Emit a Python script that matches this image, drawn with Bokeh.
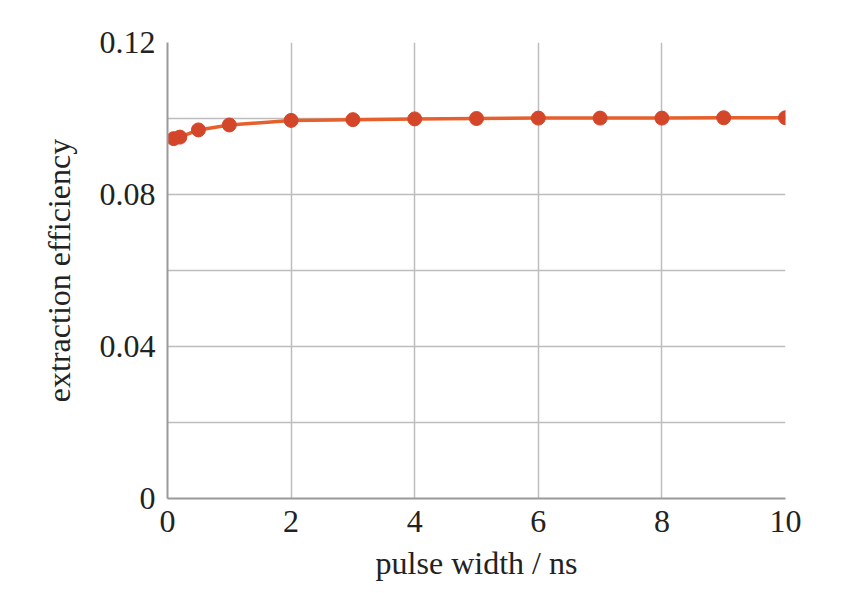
from bokeh.plotting import figure
from bokeh.models import FixedTicker, Range1d
from bokeh.embed import file_html
from bokeh.resources import INLINE

pulse_width = [0.1, 0.2, 0.5, 1, 2, 3, 4, 5, 6, 7, 8, 9, 10]
efficiency = [0.0947, 0.0951, 0.0970, 0.0983, 0.0995, 0.0997, 0.0999, 0.1000, 0.1001, 0.1001, 0.1001, 0.1002, 0.1002]

x_ticks = [0, 2, 4, 6, 8, 10]
y_ticks = [0, 0.04, 0.08, 0.12]
y_grid = [0, 0.02, 0.04, 0.06, 0.08, 0.10, 0.12]

FONT = "Liberation Serif"

p = figure(width=840, height=585, output_backend="svg", toolbar_location=None,
           x_range=Range1d(0, 10), y_range=Range1d(0, 0.12),
           min_border_left=167, min_border_right=55, min_border_top=42, min_border_bottom=87)

p.outline_line_color = None
p.background_fill_color = "white"

p.line(pulse_width, efficiency, line_color="#E5602C", line_width=3.5)
p.scatter(pulse_width, efficiency, size=14, fill_color="#D4462A", line_color="#D4462A")

p.xaxis.ticker = FixedTicker(ticks=x_ticks)
p.yaxis.ticker = FixedTicker(ticks=y_ticks)
p.xgrid.ticker = FixedTicker(ticks=x_ticks)
p.ygrid.ticker = FixedTicker(ticks=y_grid)
p.yaxis.major_label_overrides = {0: "0", 0.04: "0.04", 0.08: "0.08", 0.12: "0.12"}

for g in (p.xgrid, p.ygrid):
    g.grid_line_color = "#BDBDBD"
    g.grid_line_width = 1.5

for ax in (p.xaxis, p.yaxis):
    ax.axis_line_color = "#9A9A9A"
    ax.axis_line_width = 2
    ax.major_tick_line_color = None
    ax.minor_tick_line_color = None
    ax.major_label_text_font = FONT
    ax.major_label_text_font_size = "32px"
    ax.major_label_text_color = "#222222"
    ax.axis_label_text_font = FONT
    ax.axis_label_text_font_size = "32px"
    ax.axis_label_text_font_style = "normal"
    ax.axis_label_text_color = "#222222"

p.xaxis.axis_label = "pulse width / ns"
p.yaxis.axis_label = "extraction efficiency"
p.xaxis.major_label_standoff = 6
p.yaxis.major_label_standoff = 6
p.xaxis.axis_label_standoff = 10
p.yaxis.axis_label_standoff = 20

open("out.html", "w").write(file_html(p, INLINE))
